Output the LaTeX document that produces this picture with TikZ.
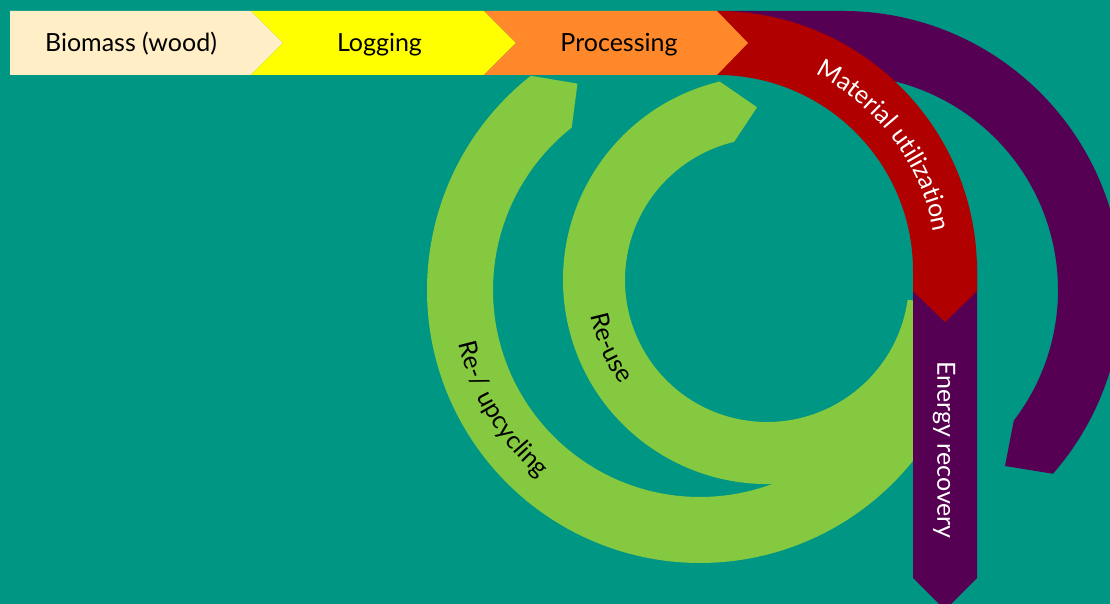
\documentclass[tikz,border=0pt]{standalone}
\usepackage{fontspec}
\setmainfont{Lato}
\usetikzlibrary{calc,decorations.text}
\definecolor{cBg}{RGB}{0,150,132}
\definecolor{cGreen}{RGB}{132,201,63}
\definecolor{cRed}{RGB}{176,0,0}
\definecolor{cPurple}{RGB}{85,0,82}
\definecolor{cOrange}{RGB}{255,137,42}
\definecolor{cYellow}{RGB}{255,255,0}
\definecolor{cCream}{RGB}{255,238,198}
\newcommand\lblfont{\fontsize{25}{30}\selectfont}
\begin{document}
\begin{tikzpicture}[x=1pt,y=1pt,
  lbl/.style={font=\lblfont,text=black,inner sep=0pt,anchor=base},
  wlbl/.style={font=\lblfont,text=white,inner sep=0pt}]
\useasboundingbox (0,0) rectangle (1110,604);
\fill[cBg] (0,0) rectangle (1110,604);
\clip (0,0) rectangle (1110,604);
\coordinate (ru) at (767,324);
\coordinate (up) at (700,314);
\coordinate (pa) at (843,314);
\coordinate (ra) at (717,333);
% green: re-/upcycling
\fill[cGreen] ($(up)+(128.3:273)$) arc[start angle=128.3, end angle=321.2, radius=273]
  -- (945,143) -- (945,200) -- ($(up)+(321.2:207)$)
  arc[start angle=321.2, end angle=128.3, radius=207] -- ($(up)+(120.7:240)$) -- cycle;
% green: re-use
\fill[cGreen] ($(ru)+(103.4:204)$) arc[start angle=103.4, end angle=352, radius=204]
  -- ($(ru)+(352:142)$) arc[start angle=352, end angle=103.4, radius=142]
  -- ($(ru)+(93.3:173)$) -- cycle;
% purple arc
\fill[cPurple] (717,593) -- (843,593) arc[start angle=90, end angle=-41.2, radius=279]
  -- (1005,138) -- ($(pa)+(-37.4:215)$) arc[start angle=-37.4, end angle=90, radius=215]
  -- (717,529) -- cycle;
% purple bar
\fill[cPurple] (913,344) -- (913,26) -- (945,-6) -- (977,26) -- (977,344) -- cycle;
% red arc
\fill[cRed] (717,593) arc[start angle=90, end angle=0, radius=260] -- (977,313) -- (945,282)
  -- (913,313) -- (913,333) arc[start angle=0, end angle=90, radius=196] -- cycle;
% top chevrons
\fill[cCream] (10,593) -- (251,593) -- (283,561) -- (251,529) -- (10,529) -- cycle;
\fill[cYellow] (251,593) -- (484,593) -- (516,561) -- (484,529) -- (251,529) -- (283,561) -- cycle;
\fill[cOrange] (484,593) -- (717,593) -- (748,561) -- (717,529) -- (484,529) -- (516,561) -- cycle;
% labels
\node[lbl] (bio) at (131,552) {Biomass (wood)};
\node[lbl] (log) at (379.5,552) {Logging};
\node[lbl] (proc) at (619,552) {Processing};
\node[wlbl,rotate=-90] (energy) at (944,154) {Energy recovery};
\path[decorate, decoration={text along path, text align=center,
   text={|\lblfont\color{white}|Material utilization}}]
  ($(ra)+(80:220)$) arc[start angle=80, end angle=-6.4, radius=220];
\path[decorate, decoration={text along path, text align=center,
   text={|\lblfont\color{black}|Re-use}}]
  ($(ru)+(183.5:180)$) arc[start angle=183.5, end angle=223.5, radius=180];
\path[decorate, decoration={text along path, text align=center,
   text={|\lblfont\color{black}|Re-/ upcycling}}]
  ($(up)+(186:247)$) arc[start angle=186, end angle=236, radius=247];
\end{tikzpicture}
\end{document}
